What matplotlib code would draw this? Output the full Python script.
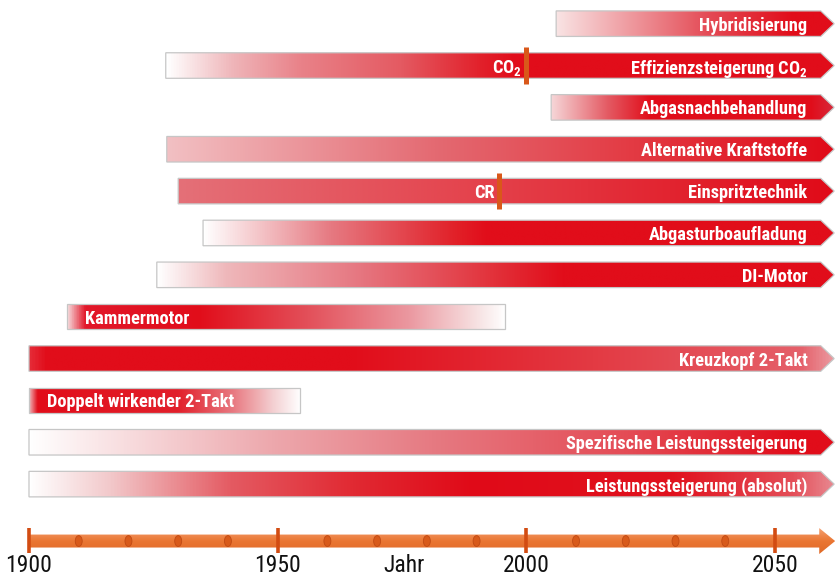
import numpy as np
import matplotlib
matplotlib.use('Agg')
import matplotlib.pyplot as plt
from matplotlib.colors import LinearSegmentedColormap
from matplotlib.patches import PathPatch, Ellipse
from matplotlib.path import Path
from matplotlib import font_manager

# pick a condensed font if one is around
available = {f.name for f in font_manager.fontManager.ttflist}
FONT = 'DejaVu Sans'
for name in ['Liberation Sans Narrow', 'Roboto Condensed', 'DejaVu Sans Condensed']:
    if name in available:
        FONT = name
        break
plt.rcParams['font.family'] = [FONT, 'DejaVu Sans']
plt.rcParams['mathtext.fontset'] = 'custom'
plt.rcParams['mathtext.rm'] = FONT + ':bold'
plt.rcParams['mathtext.bf'] = FONT + ':bold'

# timeline rows, top to bottom (None = still running, arrow to the end)
labels = ['Hybridisierung', 'Effizienzsteigerung CO$_2$', 'Abgasnachbehandlung',
          'Alternative Kraftstoffe', 'Einspritztechnik', 'Abgasturboaufladung',
          'DI-Motor', 'Kammermotor', 'Kreuzkopf 2-Takt', 'Doppelt wirkender 2-Takt',
          'Spezifische Leistungssteigerung', 'Leistungssteigerung (absolut)']
starts = [2006, 1927.5, 2005, 1927.7, 1930, 1935, 1925.7, 1907.6, 1900, 1900, 1900, 1900]
ends = [None, None, None, None, None, None, None, 1995.7, None, 1954.5, None, None]

# milestones inside a row: (row, year, text)
milestones = [(1, 2000, 'CO$_2$'), (4, 1994.5, 'CR')]

year_ticks = [1900, 1950, 2000, 2050]
minor_years = [1910, 1920, 1930, 1940, 1960, 1970, 1980, 1990, 2010, 2020, 2030, 2040]
axis_title = 'Jahr'

# colour ramps along each bar (position 0..1, colour)
RED = '#e10d1a'
ramps = [
    [(0, '#f9e4e4'), (0.55, '#e44a55'), (0.85, RED), (1, RED)],
    [(0, '#ffffff'), (0.1, '#efb4b8'), (0.2, '#e98289'), (0.35, '#e45a62'), (0.47, '#e2212b'), (0.52, RED), (1, RED)],
    [(0, '#f6d6d8'), (0.2, '#e45a63'), (0.35, RED), (0.92, RED), (1, '#d8283a')],
    [(0, '#f2c0c3'), (0.4, '#e46a72'), (0.7, '#e33a43'), (1, '#e00a18')],
    [(0, '#e47078'), (0.5, '#e43e48'), (1, '#e00a18')],
    [(0, '#ffffff'), (0.2, '#e67a82'), (0.4, '#e12028'), (0.45, RED), (1, RED)],
    [(0, '#ffffff'), (0.1, '#efb8bb'), (0.3, '#e67680'), (0.5, '#e23039'), (0.6, RED), (1, RED)],
    [(0, '#f6d8da'), (0.04, '#e2182a'), (0.3, RED), (0.55, '#e3505a'), (0.78, '#eb98a0'), (0.95, '#f8e8e8'), (1, '#ffffff')],
    [(0, '#e52a36'), (0.02, RED), (0.4, RED), (0.7, '#e33a43'), (0.96, '#e5606a'), (1, '#eb9aa0')],
    [(0, '#f0b0b4'), (0.03, RED), (0.55, '#e2202b'), (0.75, '#e87880'), (0.9, '#f4d0d2'), (1, '#ffffff')],
    [(0, '#ffffff'), (0.3, '#eda8ad'), (0.5, '#e67a82'), (0.75, '#e44a54'), (0.95, RED), (1, RED)],
    [(0, '#ffffff'), (0.1, '#f2c8ca'), (0.25, '#e45a62'), (0.4, '#e12a33'), (0.55, '#e00a18'),
     (0.8, '#e1121e'), (0.95, '#e44e58'), (1, '#e88890')],
]
left_labels = {7, 9}

X_TIP = 2061.9
HEAD = 2.7
BAR_H = 0.61
AXIS_ROW = 12.36
LABEL_ROW = 12.95
LABEL_SIZE = 13.2

fig = plt.figure(figsize=(8.35, 5.77), dpi=100)
ax = fig.add_axes([0, 0, 1, 1])


def bar_path(x0, x1, y, h, arrow):
    top, bot = y - h / 2, y + h / 2
    if arrow:
        verts = [(x0, top), (x1 - HEAD, top), (x1, y), (x1 - HEAD, bot), (x0, bot), (x0, top)]
    else:
        verts = [(x0, top), (x1, top), (x1, bot), (x0, bot), (x0, top)]
    return Path(verts, closed=True)


for i, label in enumerate(labels):
    arrow = ends[i] is None
    x0 = starts[i]
    x1 = X_TIP if arrow else ends[i]
    path = bar_path(x0, x1, i, BAR_H, arrow)
    patch = PathPatch(path, facecolor='none', edgecolor='#c6c6c6', lw=0.9, zorder=3)
    ax.add_patch(patch)
    cmap = LinearSegmentedColormap.from_list('ramp%d' % i, ramps[i])
    img = cmap(np.linspace(0, 1, 512))[None, :, :]
    im = ax.imshow(img, extent=(x0, x1, i + BAR_H / 2, i - BAR_H / 2), aspect='auto',
                   interpolation='bilinear', zorder=2)
    im.set_clip_path(patch)
    if i in left_labels:
        ax.text(x0 + 3.6, i, label, color='white', fontsize=LABEL_SIZE, fontweight='bold',
                ha='left', va='center_baseline', zorder=5)
    else:
        ax.text(x1 - 5.4, i, label, color='white', fontsize=LABEL_SIZE, fontweight='bold',
                ha='right', va='center_baseline', zorder=5)

for row, year, txt in milestones:
    ax.plot([year, year], [row - BAR_H / 2 - 0.13, row + BAR_H / 2 + 0.13],
            color='#d9581a', lw=3.6, solid_capstyle='butt', zorder=6)
    ax.text(year - 0.9, row, txt, color='white', fontsize=LABEL_SIZE, fontweight='bold',
            ha='right', va='center_baseline', zorder=5)

# time axis: orange arrow with shading
body = 0.155
head = 0.31
ax_path = Path([(1900, AXIS_ROW - body), (X_TIP - 3.0, AXIS_ROW - body), (X_TIP - 3.0, AXIS_ROW - head),
                (X_TIP + 0.2, AXIS_ROW), (X_TIP - 3.0, AXIS_ROW + head), (X_TIP - 3.0, AXIS_ROW + body),
                (1900, AXIS_ROW + body), (1900, AXIS_ROW - body)], closed=True)
ax_patch = PathPatch(ax_path, facecolor='none', edgecolor='none', zorder=3)
ax.add_patch(ax_patch)
shade = LinearSegmentedColormap.from_list('shade', ['#f4a070', '#ea7633', '#e06a28'])
img = shade(np.linspace(0, 1, 64))[:, None, :]
im = ax.imshow(img, extent=(1900, X_TIP + 0.2, AXIS_ROW + head, AXIS_ROW - head), aspect='auto',
               interpolation='bilinear', zorder=2)
im.set_clip_path(ax_patch)

for yr in year_ticks:
    ax.plot([yr, yr], [AXIS_ROW - 0.32, AXIS_ROW + 0.29], color='#d24c12', lw=2.6,
            solid_capstyle='butt', zorder=4)
    ax.text(yr, LABEL_ROW, str(yr), fontsize=17, color='#111111', ha='center', va='center')
for yr in minor_years:
    ax.add_patch(Ellipse((yr, AXIS_ROW), 1.4, 0.26, facecolor='#d85a1a', edgecolor='#c04a14',
                         lw=0.6, zorder=4))
ax.text(1975.5, LABEL_ROW, axis_title, fontsize=17, color='#111111', ha='center', va='center')

ax.set_xlim(1894.17, 2062.07)
ax.set_ylim(13.219, -0.5655)
ax.axis('off')

fig.savefig('out.png', dpi=100)
